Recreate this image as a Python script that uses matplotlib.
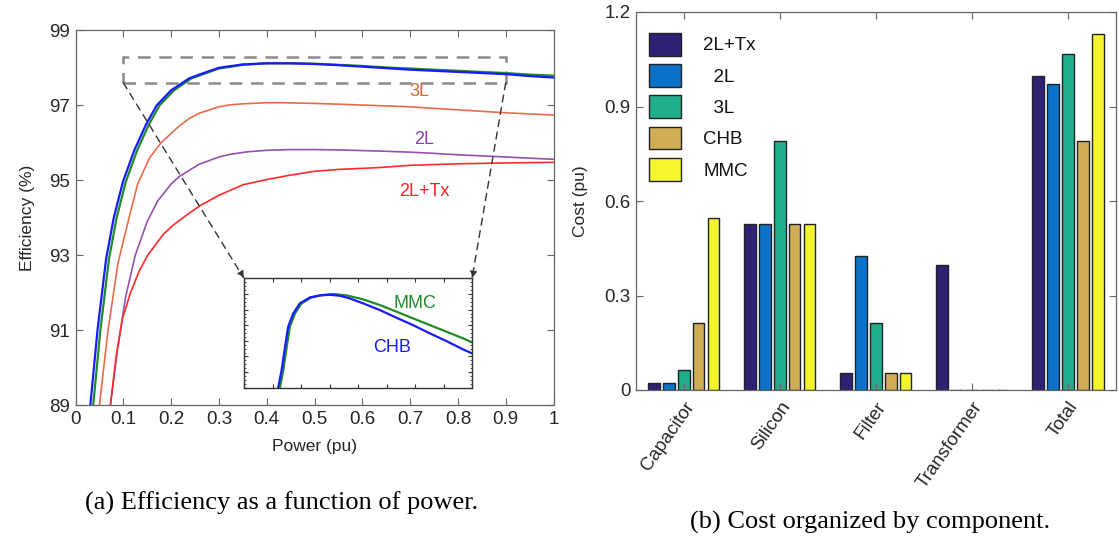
import matplotlib
matplotlib.use("Agg")
import matplotlib.pyplot as plt
from matplotlib.patches import Rectangle
from matplotlib.ticker import MultipleLocator, AutoMinorLocator

plt.rcParams['font.family'] = ['Liberation Sans', 'DejaVu Sans']

# ---------------- (a) efficiency data ----------------
chb_p = [0.031, 0.046, 0.064, 0.080, 0.099, 0.123, 0.148, 0.170, 0.200, 0.238, 0.259, 0.300,
         0.350, 0.400, 0.450, 0.500, 0.550, 0.600, 0.650, 0.700, 0.750, 0.800, 0.850, 0.900, 0.950, 1.000]
chb_e = [89.0, 91.0, 92.9, 94.0, 94.95, 95.8, 96.5, 97.0, 97.4, 97.72, 97.82, 98.0,
         98.09, 98.12, 98.12, 98.10, 98.07, 98.03, 97.99, 97.95, 97.92, 97.89, 97.86, 97.83, 97.78, 97.74]

mmc_p = [0.037, 0.052, 0.070, 0.086, 0.105, 0.129, 0.154, 0.176, 0.206, 0.243, 0.265, 0.300,
         0.350, 0.400, 0.450, 0.500, 0.550, 0.600, 0.650, 0.700, 0.750, 0.800, 0.850, 0.900, 0.950, 1.000]
mmc_e = [89.0, 91.0, 92.9, 94.0, 94.95, 95.8, 96.5, 97.0, 97.4, 97.72, 97.82, 97.98,
         98.08, 98.12, 98.12, 98.11, 98.08, 98.05, 98.01, 97.98, 97.95, 97.92, 97.89, 97.86, 97.82, 97.79]

l3_p = [0.050, 0.068, 0.089, 0.112, 0.130, 0.155, 0.179, 0.217, 0.238, 0.259, 0.300, 0.322,
        0.350, 0.400, 0.427, 0.500, 0.550, 0.636, 0.700, 0.747, 0.800, 0.887, 0.950, 1.000]
l3_e = [89.0, 91.0, 92.8, 94.0, 94.9, 95.6, 96.0, 96.45, 96.65, 96.79, 96.96, 97.01,
        97.04, 97.07, 97.07, 97.05, 97.03, 96.99, 96.96, 96.92, 96.88, 96.81, 96.77, 96.74]

l2_p = [0.073, 0.088, 0.105, 0.125, 0.150, 0.172, 0.200, 0.217, 0.259, 0.300, 0.322, 0.360,
        0.400, 0.450, 0.500, 0.550, 0.636, 0.700, 0.747, 0.800, 0.887, 0.950, 1.000]
l2_e = [89.0, 90.5, 91.9, 93.0, 93.9, 94.45, 94.9, 95.1, 95.43, 95.62, 95.69, 95.76,
        95.80, 95.82, 95.82, 95.81, 95.78, 95.75, 95.72, 95.68, 95.63, 95.59, 95.56]

tx_p = [0.073, 0.085, 0.098, 0.115, 0.134, 0.151, 0.183, 0.204, 0.230, 0.260, 0.300, 0.350,
        0.400, 0.450, 0.500, 0.550, 0.636, 0.700, 0.800, 0.887, 1.000]
tx_e = [89.0, 90.3, 91.3, 92.0, 92.6, 93.0, 93.55, 93.8, 94.05, 94.32, 94.6, 94.88,
        95.02, 95.14, 95.24, 95.29, 95.34, 95.40, 95.44, 95.46, 95.48]

# inset (zoomed view) data
zchb_p = [0.220, 0.232, 0.244, 0.255, 0.273, 0.296, 0.331, 0.366, 0.401, 0.436, 0.471, 0.518,
          0.577, 0.635, 0.693, 0.752, 0.810, 0.869, 0.900]
zchb_e = [97.600, 97.713, 97.862, 97.991, 98.076, 98.140, 98.178, 98.191, 98.195, 98.189, 98.172, 98.140,
          98.097, 98.048, 98.001, 97.948, 97.899, 97.845, 97.820]
zmmc_p = [0.226, 0.238, 0.250, 0.261, 0.279, 0.302, 0.337, 0.372, 0.413, 0.460, 0.518, 0.577,
          0.635, 0.693, 0.752, 0.810, 0.869, 0.900]
zmmc_e = [97.600, 97.713, 97.862, 97.991, 98.076, 98.140, 98.178, 98.193, 98.200, 98.191, 98.166, 98.129,
          98.087, 98.044, 98.001, 97.959, 97.916, 97.890]

power_ticks = [0, 0.1, 0.2, 0.3, 0.4, 0.5, 0.6, 0.7, 0.8, 0.9, 1.0]
power_ticklabels = ["0", "0.1", "0.2", "0.3", "0.4", "0.5", "0.6", "0.7", "0.8", "0.9", "1"]
eff_ticks = [89, 91, 93, 95, 97, 99]

# ---------------- (b) cost data ----------------
components = ["Capacitor", "Silicon", "Filter", "Transformer", "Total"]
topologies = ["2L+Tx", "2L", "3L", "CHB", "MMC"]
legend_labels = ["2L+Tx", "  2L", "  3L", "CHB", "MMC"]
cost_2ltx = [0.022, 0.528, 0.054, 0.397, 0.998]
cost_2l   = [0.022, 0.528, 0.424, 0.0, 0.972]
cost_3l   = [0.062, 0.791, 0.212, 0.0, 1.066]
cost_chb  = [0.212, 0.528, 0.054, 0.0, 0.789]
cost_mmc  = [0.546, 0.528, 0.054, 0.0, 1.129]
cost_ticks = [0, 0.3, 0.6, 0.9, 1.2]
cost_ticklabels = ["0", "0.3", "0.6", "0.9", "1.2"]
bar_colors = ["#2d2275", "#0b72c9", "#20ae8d", "#d1ad55", "#f5f52f"]

# ---------------- figure ----------------
fig = plt.figure(figsize=(11.19, 5.40), dpi=100)
W, H = 1119.0, 540.0

frame_col = "#666666"
tick_col = "#262626"

ax = fig.add_axes([75.5 / W, (H - 405.3) / H, 478 / W, 375 / H])
c_blue, c_green, c_orange, c_purple, c_red = "#1a1aff", "#1e8c2a", "#ec6a48", "#9650b0", "#ff2a2a"
ax.plot(l3_p, l3_e, color=c_orange, lw=1.2)
ax.plot(l2_p, l2_e, color=c_purple, lw=1.2)
ax.plot(tx_p, tx_e, color=c_red, lw=1.2)
ax.plot(mmc_p, mmc_e, color=c_green, lw=1.6)
ax.plot(chb_p, chb_e, color=c_blue, lw=1.6)
ax.set_xlim(0, 1)
ax.set_ylim(89, 99)
ax.set_xticks(power_ticks)
ax.set_xticklabels(power_ticklabels)
ax.set_yticks(eff_ticks)
ax.tick_params(direction="in", top=True, right=True, length=5, width=0.8,
               color=frame_col, labelsize=13.5, labelcolor=tick_col, pad=4)
for s in ax.spines.values():
    s.set_color(frame_col)
    s.set_linewidth(0.9)
ax.set_xlabel("Power (pu)", fontsize=12.5, color=tick_col, labelpad=8)
ax.set_ylabel("Efficiency (%)", fontsize=12.5, color=tick_col, labelpad=10)

ax.text(0.72, 97.15, "3L", color="#e0623c", fontsize=13, ha="center", va="bottom")
ax.text(0.73, 95.85, "2L", color="#8a3fb0", fontsize=13, ha="center", va="bottom")
ax.text(0.73, 94.7, "2L+Tx", color="#ff2020", fontsize=13, ha="center", va="center")

# dashed zoom rectangle
ax.add_patch(Rectangle((0.1, 97.6), 0.8, 0.7, fill=False, edgecolor="#8a8a8a",
                       lw=1.8, linestyle=(0, (5, 3.5))))

# inset
axins = fig.add_axes([244 / W, (H - 387.7) / H, 228 / W, 109.3 / H])
axins.plot(zmmc_p, zmmc_e, color=c_green, lw=1.6)
axins.plot(zchb_p, zchb_e, color=c_blue, lw=1.6)
axins.set_xlim(0.1, 0.9)
axins.set_ylim(97.6, 98.3)
axins.xaxis.set_major_locator(MultipleLocator(0.1))
axins.yaxis.set_major_locator(MultipleLocator(0.1))
axins.yaxis.set_minor_locator(AutoMinorLocator(4))
axins.tick_params(which="both", direction="in", top=True, right=True,
                  labelbottom=False, labelleft=False, color="#333333")
axins.tick_params(which="major", length=3)
axins.tick_params(which="minor", length=1.5)
for s in axins.spines.values():
    s.set_color("#333333")
    s.set_linewidth(1.0)
axins.text(0.70, 98.14, "MMC", color="#1e8c2a", fontsize=13, ha="center", va="center")
axins.text(0.62, 97.86, "CHB", color="#1a1aff", fontsize=13, ha="center", va="center")

arrow_kw = dict(arrowstyle="-|>", linestyle=(0, (5, 4)), color="#333333", lw=1.0,
                mutation_scale=10, shrinkA=0, shrinkB=0)
ax.annotate("", xy=(0, 1), xycoords=axins.transAxes, xytext=(0.1, 97.6),
            textcoords="data", arrowprops=arrow_kw)
ax.annotate("", xy=(1, 1), xycoords=axins.transAxes, xytext=(0.9, 97.6),
            textcoords="data", arrowprops=arrow_kw)

# ---------------- (b) bars ----------------
bx = fig.add_axes([635.6 / W, (H - 390) / H, 480.4 / W, 378 / H])
series = [cost_2ltx, cost_2l, cost_3l, cost_chb, cost_mmc]
xpos = list(range(len(components)))
step, bw = 0.155, 0.122
for i, (vals, col, lab) in enumerate(zip(series, bar_colors, legend_labels)):
    off = (i - 2) * step
    bx.bar([p + off for p in xpos], vals, width=bw, color=col, edgecolor="#222222",
           linewidth=1.0, label=lab)
bx.set_xlim(-0.5, 4.5)
bx.set_ylim(0, 1.2)
bx.set_yticks(cost_ticks)
bx.set_yticklabels(cost_ticklabels)
bx.set_xticks(xpos)
bx.set_xticklabels(components, rotation=55, ha="right", rotation_mode="anchor")
bx.tick_params(direction="in", top=True, right=True, length=5, width=0.8,
               color=frame_col, labelsize=13.5, labelcolor=tick_col)
bx.tick_params(axis="x", pad=6)
for s in bx.spines.values():
    s.set_color(frame_col)
    s.set_linewidth(0.9)
bx.set_ylabel("Cost (pu)", fontsize=12.5, color=tick_col, labelpad=12)
leg = bx.legend(loc="upper left", frameon=False, fontsize=13.5, handlelength=1.7,
                handleheight=1.5, labelspacing=0.45, handletextpad=1.2,
                borderaxespad=0.3, bbox_to_anchor=(0.0, 0.98))
for t in leg.get_texts():
    t.set_color("#111111")

# captions
fig.text(282 / W, 1 - 503 / H, "(a) Efficiency as a function of power.",
         family=["Liberation Serif", "DejaVu Serif"], fontsize=19, ha="center", va="center")
fig.text(870 / W, 1 - 522 / H, "(b) Cost organized by component.",
         family=["Liberation Serif", "DejaVu Serif"], fontsize=19, ha="center", va="center")

fig.savefig("out.png", dpi=100)
